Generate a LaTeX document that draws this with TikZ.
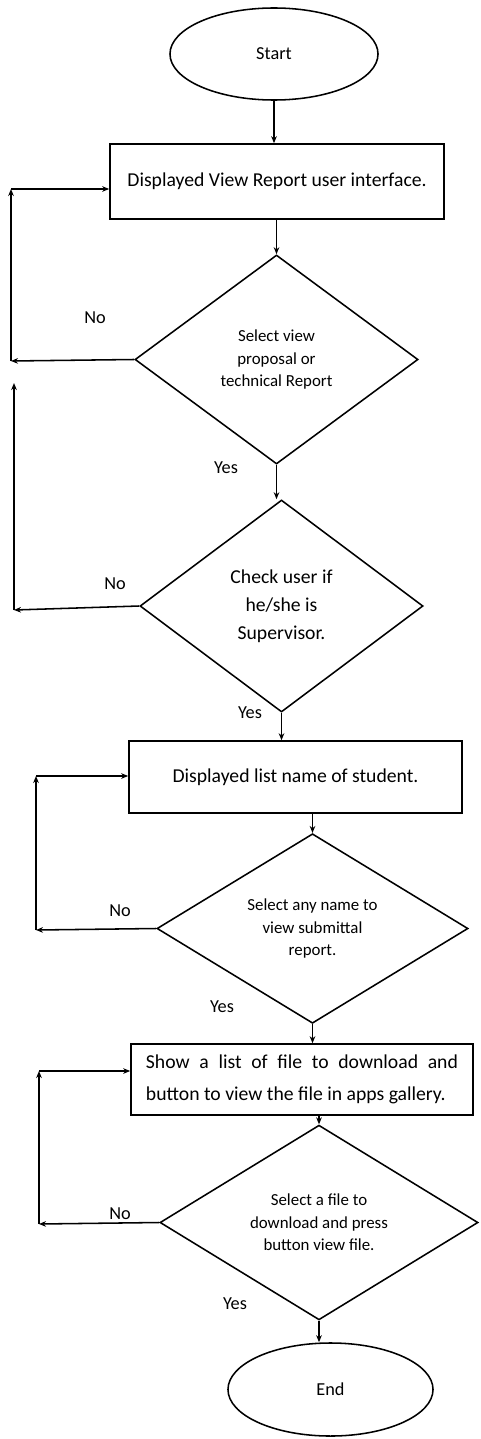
\documentclass[tikz,border=0pt]{standalone}
\usepackage{fontspec}
\setmainfont{Carlito}
\usetikzlibrary{
  arrows.meta,
  shapes.geometric
}
\tikzset{
  % For all outlines and connectors.
  line/.style={
    line width=1.1pt},
%
  % For the start and end ovals.
  terminal/.style={
    draw,
    line,
    ellipse,
    inner sep=0pt,
    font=\fontsize{13}{15}\selectfont},
%
  % For process boxes.
  process/.style={
    draw,
    line,
    rectangle,
    inner sep=0pt,
    align=center,
    font=\fontsize{14}{23}\selectfont},
%
  % For decisions.
  decision/.style={
    draw,
    line,
    diamond,
    inner sep=0pt,
    align=center,
    font=\fontsize{12}{16}\selectfont},
%
  % For connectors with one arrow.
  flow/.style={
    line,
    -{Stealth[length=5pt,width=4pt]}},
%
  % For the Yes/No answers.
  answer/.style={
    inner sep=0pt,
    font=\fontsize{13}{15}\selectfont}
}

\begin{document}
\begin{tikzpicture}[x=0.025cm, y=-0.025cm]
  \useasboundingbox (0,0) rectangle (480,1439);

  \node [terminal, minimum width=5.2cm, minimum height=2.3cm]
        (start) at (274,54) {Start};
  \node [process, minimum width=8.35cm, minimum height=1.875cm]
        (box1) at (277,181.5) {Displayed View Report user interface.};
  \node [decision, minimum width=7.075cm, minimum height=5.225cm]
        (d1) at (276.5,359.5) {Select view\\proposal or\\technical Report};
  \node [decision, minimum width=7.075cm, minimum height=5.3cm,
         font=\fontsize{14}{20}\selectfont]
        (d2) at (281.5,606) {Check user if\\he/she is\\Supervisor.};
  \node [process, minimum width=8.325cm, minimum height=1.8cm]
        (box2) at (295.5,777) {Displayed list name of student.};
  \node [decision, minimum width=7.775cm, minimum height=4.075cm]
        (d3) at (312.5,928.5) {Select any name to\\view submittal\\report.};
  \node [process, minimum width=8.55cm, minimum height=1.775cm,
         text width=7.8cm, align=justify]
        (box3) at (302,1079.5)
        {Show a list of file to download and\linebreak button to view the file in apps gallery.};
  \node [decision, minimum width=7.95cm, minimum height=4.275cm]
        (d4) at (319,1222.5) {Select a file to\\download and press\\button view file.};
  \node [terminal, minimum width=5.125cm, minimum height=2.325cm]
        (end) at (330.5,1389.5) {End};

  % Main flow.
  \draw[flow] (start.south) -- (start.south |- box1.north);
  \draw[flow] (d1.north |- box1.south) -- (d1.north);
  \draw[flow] (d1.south) -- (d1.south |- d2.north);
  \draw[flow] (d2.south) -- (d2.south |- box2.north);
  \draw[flow] (d3.north |- box2.south) -- (d3.north);
  \draw[flow] (d3.south) -- (d3.south |- box3.north);
  \draw[flow] (d4.north |- box3.south) -- (d4.north);
  \draw[flow] (d4.south) -- (d4.south |- end.north);

  \node[answer] (yes1) at (226,468) {Yes};
  \node[answer] (yes2) at (250,713) {Yes};
  \node[answer] (yes3) at (222,1007) {Yes};
  \node[answer] (yes4) at (235,1304) {Yes};

  % Loops back on No.
  \coordinate (b1) at (11,361);
  \coordinate (t1) at (11,189);
  \draw[flow] (d1.west) -- (b1);
  \draw[flow] (b1) -- (t1);
  \draw[flow] (t1) -- (t1 -| box1.west);
  \node[answer] (no1) at (95,318) {No};

  \coordinate (b2) at (14,610);
  \coordinate (t2) at (14,383);
  \draw[flow] (d2.west) -- (b2);
  \draw[flow] (b2) -- (t2);
  \node[answer] (no2) at (115,584) {No};

  \coordinate (b3) at (36,930);
  \coordinate (t3) at (36,776);
  \draw[flow] (d3.west) -- (b3);
  \draw[flow] (b3) -- (t3);
  \draw[flow] (t3) -- (t3 -| box2.west);
  \node[answer] (no3) at (120,911) {No};

  \coordinate (b4) at (39,1224);
  \coordinate (t4) at (39,1071);
  \draw[flow] (d4.west) -- (b4);
  \draw[flow] (b4) -- (t4);
  \draw[flow] (t4) -- (t4 -| box3.west);
  \node[answer] (no4) at (120,1214) {No};
\end{tikzpicture}
\end{document}
